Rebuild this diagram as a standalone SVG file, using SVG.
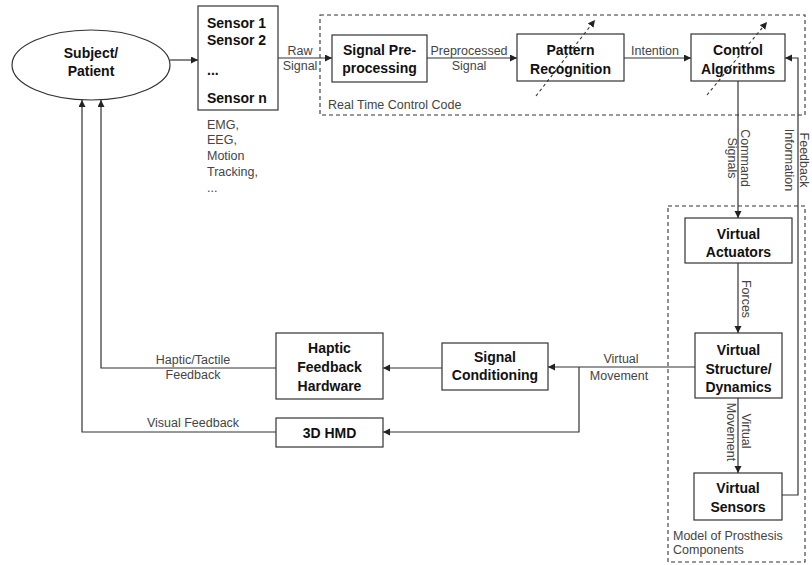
<svg xmlns="http://www.w3.org/2000/svg" width="812" height="565" viewBox="0 0 812 565">
<defs>
<marker id="ah" markerUnits="userSpaceOnUse" markerWidth="8" markerHeight="8" refX="7" refY="3.5" orient="auto">
<path d="M0,0 L7,3.5 L0,7 z" fill="#222"/>
</marker>
<style>
.box{fill:#fff;stroke:#333;stroke-width:1.2}
.grp{fill:none;stroke:#333;stroke-width:1.1;stroke-dasharray:4,3}
.b{font-family:"Liberation Sans",Arial,sans-serif;font-size:14px;font-weight:bold;fill:#111;text-anchor:middle}
.bl{font-family:"Liberation Sans",Arial,sans-serif;font-size:14px;font-weight:bold;fill:#111}
.l{font-family:"Liberation Sans",Arial,sans-serif;font-size:12.5px;fill:#444;text-anchor:middle}
.ll{font-family:"Liberation Sans",Arial,sans-serif;font-size:12.5px;fill:#444}
.c{fill:none;stroke:#333;stroke-width:1.2}
.d{fill:none;stroke:#333;stroke-width:1.1;stroke-dasharray:3,3}
</style>
</defs>
<rect width="812" height="565" fill="#fff"/>

<g id="groups">
<rect class="grp" x="320" y="15" width="485" height="100"/>
<text class="ll" x="328" y="109">Real Time Control Code</text>
<rect class="grp" x="668" y="206" width="137" height="356"/>
<text class="ll" x="673" y="540">Model of Prosthesis</text>
<text class="ll" x="673" y="554">Components</text>
</g>

<g id="connectors">
<path class="c" d="M170,60 H198" marker-end="url(#ah)"/>
<path class="c" d="M278,58 H332" marker-end="url(#ah)"/>
<path class="c" d="M427,58 H517" marker-end="url(#ah)"/>
<path class="c" d="M624,58 H691" marker-end="url(#ah)"/>
<path class="c" d="M738,81 V218" marker-end="url(#ah)"/>
<path class="c" d="M738,263 V333" marker-end="url(#ah)"/>
<path class="c" d="M738,398 V473" marker-end="url(#ah)"/>
<path class="c" d="M782,495 H798 V58 H785" marker-end="url(#ah)"/>
<path class="c" d="M695,367 H548" marker-end="url(#ah)"/>
<path class="c" d="M579,367 V432 H383" marker-end="url(#ah)"/>
<path class="c" d="M442,368 H383" marker-end="url(#ah)"/>
<path class="c" d="M276,368 H101 V100" marker-end="url(#ah)"/>
<path class="c" d="M276,432 H82 V100" marker-end="url(#ah)"/>

<text class="l" x="300" y="55">Raw</text>
<text class="l" x="300" y="70">Signal</text>
<text class="l" x="469" y="55">Preprocessed</text>
<text class="l" x="469" y="70">Signal</text>
<text class="l" x="655" y="55">Intention</text>
<text class="l" transform="translate(741,158) rotate(90)">Command</text>
<text class="l" transform="translate(728,158) rotate(90)">Signals</text>
<text class="l" transform="translate(800,160) rotate(90)">Feedback</text>
<text class="l" transform="translate(785,160) rotate(90)">Information</text>
<text class="l" transform="translate(742,299) rotate(90)">Forces</text>
<text class="l" transform="translate(742,431) rotate(90)">Virtual</text>
<text class="l" transform="translate(727,432) rotate(90)">Movement</text>
<text class="l" x="621" y="363">Virtual</text>
<text class="l" x="619" y="380">Movement</text>
<text class="l" x="193" y="364">Haptic/Tactile</text>
<text class="l" x="193" y="379">Feedback</text>
<text class="l" x="193" y="427">Visual Feedback</text>
</g>

<g id="subject">
<ellipse cx="91" cy="65" rx="79" ry="35" fill="#fff" stroke="#333" stroke-width="1.2"/>
<text class="b" x="91" y="58">Subject/</text>
<text class="b" x="91" y="76">Patient</text>
</g>

<g id="sensors">
<rect class="box" x="198" y="6" width="80" height="104"/>
<text class="bl" x="207" y="28">Sensor 1</text>
<text class="bl" x="207" y="45">Sensor 2</text>
<text class="bl" x="207" y="75">...</text>
<text class="bl" x="207" y="103">Sensor n</text>
<text class="ll" x="207" y="129">EMG,</text>
<text class="ll" x="207" y="144">EEG,</text>
<text class="ll" x="207" y="160">Motion</text>
<text class="ll" x="207" y="176">Tracking,</text>
<text class="ll" x="207" y="192">...</text>
</g>

<g id="preprocessing">
<rect class="box" x="332" y="35" width="95" height="47"/>
<text class="b" x="379.5" y="55">Signal Pre-</text>
<text class="b" x="379.5" y="73">processing</text>
</g>

<g id="pattern">
<rect class="box" x="517" y="34" width="107" height="47"/>
<text class="b" x="570.5" y="55">Pattern</text>
<text class="b" x="570.5" y="74">Recognition</text>
</g>

<g id="control">
<rect class="box" x="691" y="34" width="94" height="47"/>
<text class="b" x="738" y="55">Control</text>
<text class="b" x="738" y="74">Algorithms</text>
</g>

<g id="actuators">
<rect class="box" x="685" y="218" width="107" height="45"/>
<text class="b" x="738.5" y="239">Virtual</text>
<text class="b" x="738.5" y="257">Actuators</text>
</g>

<g id="structure">
<rect class="box" x="695" y="333" width="87" height="65"/>
<text class="b" x="738.5" y="355">Virtual</text>
<text class="b" x="738.5" y="374">Structure/</text>
<text class="b" x="738.5" y="392">Dynamics</text>
</g>

<g id="vsensors">
<rect class="box" x="694" y="473" width="88" height="47"/>
<text class="b" x="738" y="493">Virtual</text>
<text class="b" x="738" y="512">Sensors</text>
</g>

<g id="conditioning">
<rect class="box" x="442" y="343" width="106" height="47"/>
<text class="b" x="495" y="362">Signal</text>
<text class="b" x="495" y="380">Conditioning</text>
</g>

<g id="haptic">
<rect class="box" x="276" y="333" width="107" height="66"/>
<text class="b" x="329.5" y="353">Haptic</text>
<text class="b" x="329.5" y="372">Feedback</text>
<text class="b" x="329.5" y="391">Hardware</text>
</g>

<g id="hmd">
<rect class="box" x="276" y="418" width="107" height="29"/>
<text class="b" x="329.5" y="438">3D HMD</text>
</g>

<g id="adaptation-arrows">
<path class="d" d="M536,96 L595,20" marker-end="url(#ah)"/>
<path class="d" d="M707,95 L767,22" marker-end="url(#ah)"/>
</g>
</svg>
